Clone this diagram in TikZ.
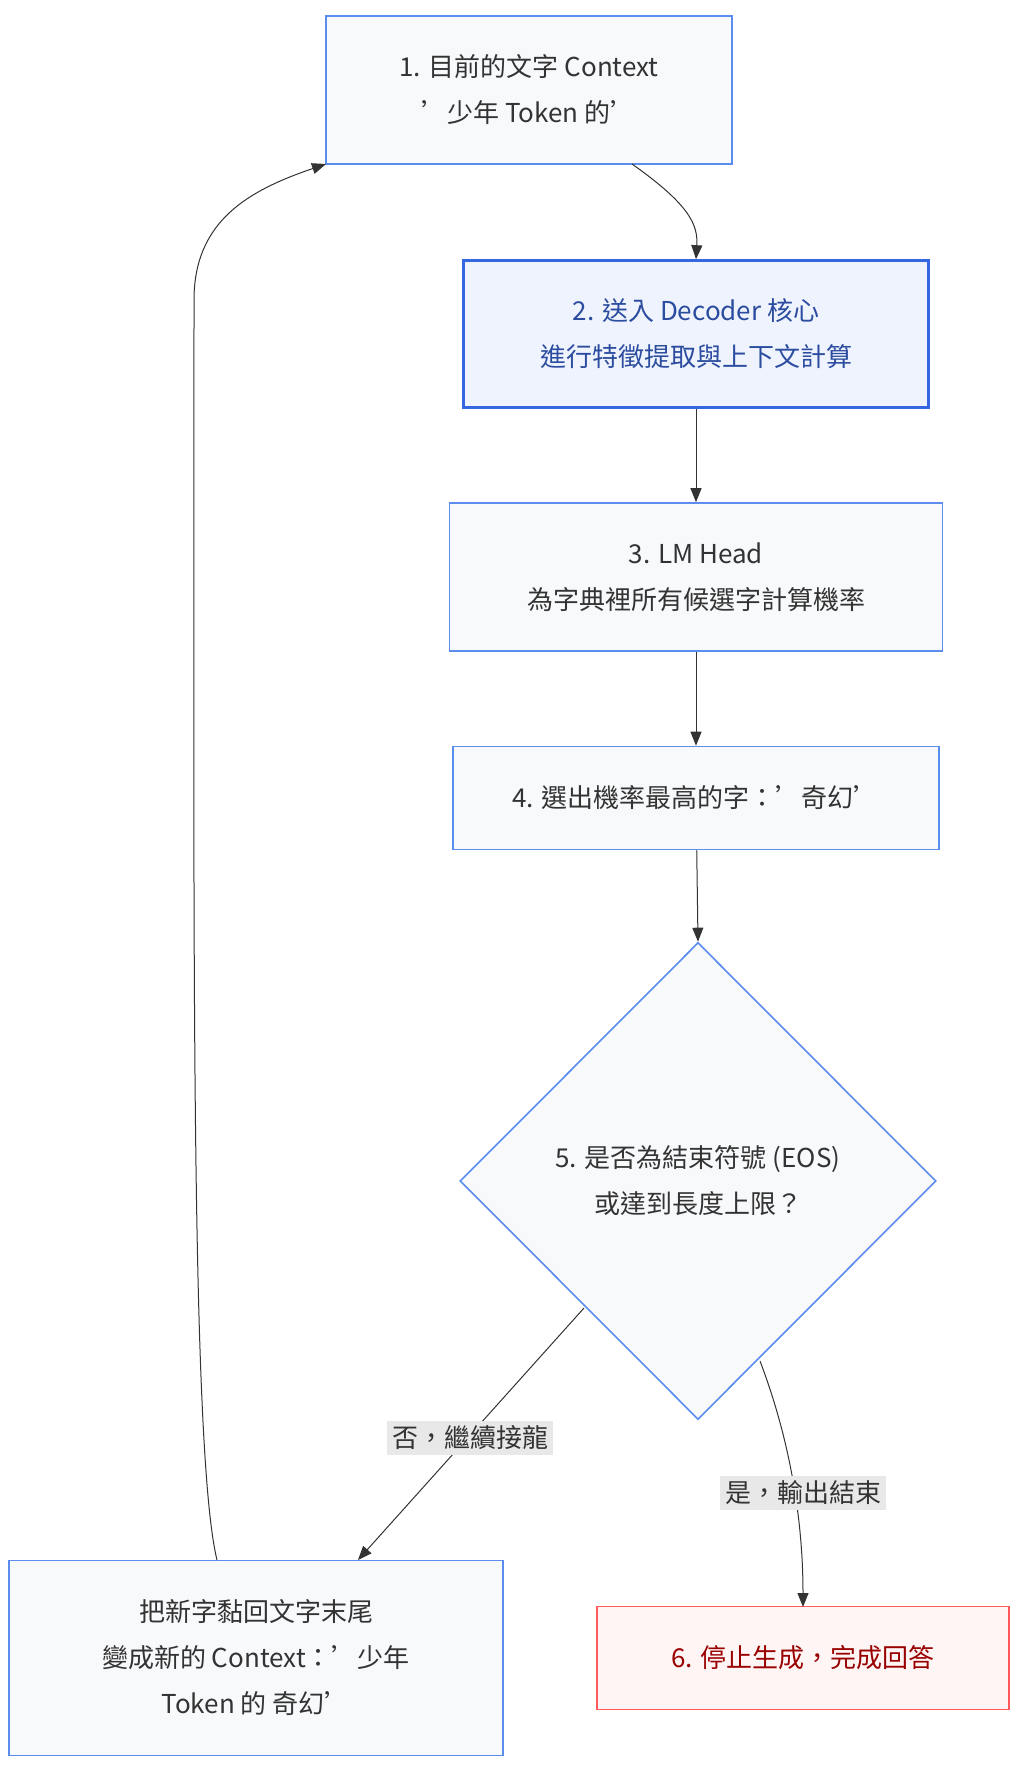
\documentclass[tikz,border=0pt]{standalone}
\usepackage{fontspec}
\setmainfont{Noto Sans CJK TC}
\usetikzlibrary{shapes.geometric,arrows.meta}
\definecolor{bx}{HTML}{F8F9FB}
\definecolor{bd}{HTML}{5B8DEF}
\definecolor{tx}{HTML}{333333}
\definecolor{lb}{HTML}{E8E8E8}
\definecolor{b2f}{HTML}{EEF3FD}
\definecolor{b2t}{HTML}{2B4C9F}
\definecolor{b2d}{HTML}{3567E0}
\newcommand\qq{\symbol{"27}}
\begin{document}
\begin{tikzpicture}[x=1pt,y=-1pt,
  every node/.style={font=\fontsize{26}{46}\selectfont,text=tx,align=center},
  box/.style={draw=bd,line width=1.6pt,fill=bx,inner sep=0pt},
  arr/.style={draw=tx,line width=1pt,-{Triangle[length=14pt,width=11pt]}},
  lab/.style={fill=lb,inner sep=5pt}]
\useasboundingbox (0,0) rectangle (1024,1771);
\node[box,minimum width=406,minimum height=148] (n1) at (529,90) {1. 目前的文字 Context\\\qq 少年 Token 的\qq};
\node[box,line width=2.6pt,draw=b2d,fill=b2f,text=b2t,minimum width=465,minimum height=147] (n2) at (696,334) {2. 送入 Decoder 核心\\進行特徵提取與上下文計算};
\node[box,minimum width=493,minimum height=148] (n3) at (696,577) {3. LM Head\\為字典裡所有候選字計算機率};
\node[box,minimum width=486,minimum height=103] (n4) at (696,798) {4. 選出機率最高的字：\qq 奇幻\qq};
\node[box,diamond,aspect=1,minimum width=476,minimum height=477] (n5) at (698,1181) {};
\node at (698,1181) {5. 是否為結束符號 (EOS)\\或達到長度上限？};
\node[box,minimum width=494,minimum height=195] (n7) at (256,1658) {把新字黏回文字末尾\\變成新的 Context：\qq 少年\\Token 的 奇幻\qq};
\node[box,draw=red!65,fill=red!4,text=red!60!black,minimum width=412,minimum height=103] (n6) at (803,1658) {6. 停止生成，完成回答};
\coordinate (a1) at (632,164);
\draw[arr] (a1) .. controls (690,205) and (698,225) .. (n2.north);
\draw[arr] (n2) -- (n3);
\draw[arr] (n3) -- (n4);
\draw[arr] (n4) -- (n5.north);
\coordinate (d1) at (584,1308);
\coordinate (d2) at (760,1361);
\coordinate (t7) at (358,1560);
\coordinate (t6) at (803,1607);
\coordinate (s7) at (217,1560);
\coordinate (e1) at (326,164);
\draw[arr] (d1) -- (t7);
\draw[arr] (d2) .. controls (790,1440) and (803,1520) .. (t6);
\draw[arr] (s7) .. controls (190,1450) and (194,900) .. (194,300) .. controls (194,220) and (250,190) .. (e1);
\node[lab] at (470,1438) {否，繼續接龍};
\node[lab] at (803,1493) {是，輸出結束};
\end{tikzpicture}
\end{document}
